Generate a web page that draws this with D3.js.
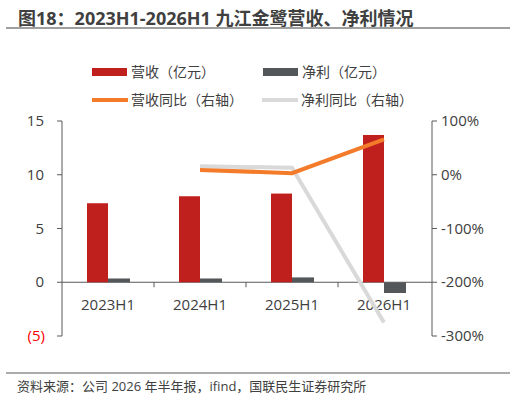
<!DOCTYPE html><html><head><meta charset="utf-8"><script src="https://cdn.jsdelivr.net/npm/d3@7"></script>
<style>body{margin:0;background:#fff}text{font-family:"Open Sans","Noto Sans CJK SC",sans-serif}</style></head><body>
<svg id="c" width="516" height="401"></svg>
<script>
const categories=["2023H1","2024H1","2025H1","2026H1"];
const revenue=[7.35,8.0,8.25,13.7];
const netProfit=[0.35,0.35,0.45,-1.0];
const revYoY=[null,9,3,66];
const npYoY=[null,16,13,-275];
const leftTicks=[15,10,5,0,-5];
const rightTicks=[100,0,-100,-200,-300];
const svg=d3.select("#c");
const ml=62,mr=432,pTop=121,pBot=336;
const x=d3.scaleBand().domain(categories).range([ml,mr-2]);
const yl=d3.scaleLinear().domain([-5,15]).range([pBot,pTop]);
const yr=d3.scaleLinear().domain([-300,100]).range([pBot,pTop]);
svg.append("text").attr("x",18).attr("y",25).attr("font-size",18).attr("font-weight","bold").attr("fill","#404040").text("图18：2023H1-2026H1 九江金鹭营收、净利情况");
svg.append("line").attr("x1",6).attr("x2",510).attr("y1",28).attr("y2",28).attr("stroke","#404040").attr("stroke-width",1.2);
svg.append("line").attr("x1",6).attr("x2",510).attr("y1",373).attr("y2",373).attr("stroke","#595959").attr("stroke-width",1.2);
svg.append("text").attr("x",17).attr("y",391).attr("font-size",13).attr("fill","#404040").text("资料来源：公司 2026 年半年报，ifind，国联民生证券研究所");
const lg=[["rect","#C0201D",92,72,"营收（亿元）"],["rect","#53575A",263,72,"净利（亿元）"],["line","#F47B2A",92,100,"营收同比（右轴）"],["line","#D9D9D9",262,100,"净利同比（右轴）"]];
lg.forEach(d=>{
 if(d[0]=="rect")svg.append("rect").attr("x",d[2]).attr("y",d[3]-4).attr("width",35).attr("height",8).attr("fill",d[1]);
 else svg.append("line").attr("x1",d[2]).attr("x2",d[2]+36).attr("y1",d[3]).attr("y2",d[3]).attr("stroke",d[1]).attr("stroke-width",4);
 svg.append("text").attr("x",d[2]+39).attr("y",d[3]+5).attr("font-size",14).attr("fill","#404040").text(d[4]);
});
svg.append("line").attr("x1",ml).attr("x2",ml).attr("y1",pTop).attr("y2",pBot).attr("stroke","#595959");
svg.append("line").attr("x1",mr).attr("x2",mr).attr("y1",pTop).attr("y2",pBot).attr("stroke","#595959");
leftTicks.forEach(t=>{
 svg.append("line").attr("x1",ml-5).attr("x2",ml).attr("y1",yl(t)).attr("y2",yl(t)).attr("stroke","#595959");
 svg.append("text").attr("x",t<0?45:44).attr("y",yl(t)+5).attr("text-anchor","end").attr("font-size",15).attr("fill",t<0?"#FF0000":"#404040").text(t<0?"("+(-t)+")":t);
});
rightTicks.forEach(t=>{
 svg.append("line").attr("x1",mr).attr("x2",mr+5).attr("y1",yr(t)).attr("y2",yr(t)).attr("stroke","#595959");
 svg.append("text").attr("x",mr+9).attr("y",yr(t)+5).attr("font-size",15).attr("fill","#404040").text(t+"%");
});
svg.append("line").attr("x1",ml).attr("x2",mr).attr("y1",yl(0)).attr("y2",yl(0)).attr("stroke","#595959");
categories.forEach((c,i)=>{
 const xs=x(c)+x.bandwidth();
 if(i<3)svg.append("line").attr("x1",xs).attr("x2",xs).attr("y1",yl(0)).attr("y2",yl(0)+5).attr("stroke","#595959");
 svg.append("text").attr("x",x(c)+x.bandwidth()/2).attr("y",yl(0)+28).attr("text-anchor","middle").attr("font-size",15).attr("fill","#404040").text(c);
});
const bw=21;
categories.forEach((c,i)=>{
 const cx=x(c)+x.bandwidth()/2;
 svg.append("rect").attr("x",cx-bw).attr("width",bw).attr("y",yl(Math.max(0,revenue[i]))).attr("height",Math.abs(yl(revenue[i])-yl(0))).attr("fill","#C0201D");
 svg.append("rect").attr("x",cx).attr("width",bw+1).attr("y",yl(Math.max(0,netProfit[i]))).attr("height",Math.abs(yl(netProfit[i])-yl(0))).attr("fill","#53575A");
});
const line=d3.line().defined(d=>d[1]!=null).x(d=>x(d[0])+x.bandwidth()/2).y(d=>yr(d[1]));
svg.append("path").datum(categories.map((c,i)=>[c,npYoY[i]])).attr("d",line).attr("fill","none").attr("stroke","#D9D9D9").attr("stroke-width",4);
svg.append("path").datum(categories.map((c,i)=>[c,revYoY[i]])).attr("d",line).attr("fill","none").attr("stroke","#F47B2A").attr("stroke-width",4);
</script></body></html>
